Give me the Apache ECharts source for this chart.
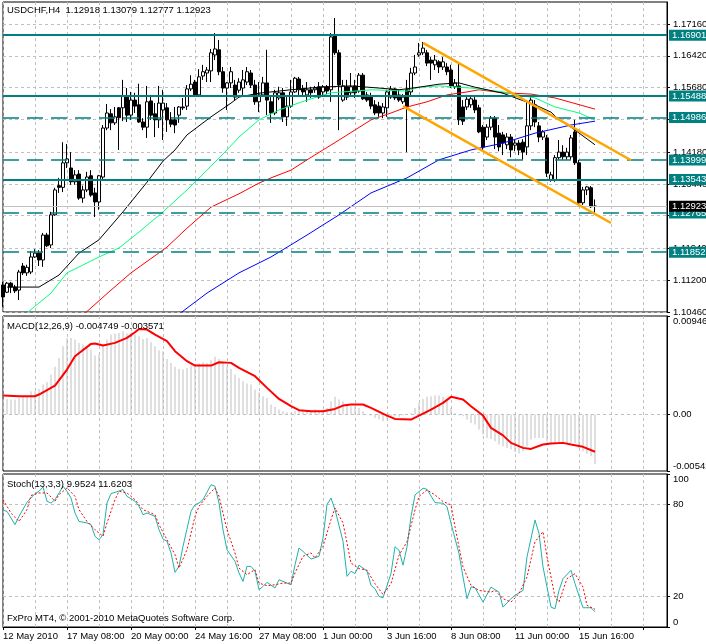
<!DOCTYPE html>
<html><head><meta charset="utf-8">
<script src="https://cdn.jsdelivr.net/npm/echarts@6/dist/echarts.min.js"></script>
<style>html,body{margin:0;padding:0;background:#fff}#c{width:706px;height:644px}</style>
</head><body><div id="c"></div>
<script>
const xTickLabels = ['12 May 2010','17 May 08:00','20 May 00:00','24 May 16:00','27 May 08:00','1 Jun 00:00','3 Jun 16:00','8 Jun 08:00','11 Jun 00:00','15 Jun 16:00'];
const priceTickLabels = ['1.10460','1.11200','1.11940','1.12700','1.13440','1.14180','1.14940','1.15680','1.16420','1.17160'];
const macdTickLabels = ['-0.00542','0.00','0.00946'];
const stochTickLabels = ['0','20','80','100'];

const open = [1.1109,1.1092,1.1113,1.1104,1.1097,1.1153,1.1137,1.1139,1.1174,1.1183,
1.1167,1.1225,1.1202,1.1272,1.1340,1.1336,1.1393,1.1381,1.1349,1.1367,
1.1311,1.1330,1.1363,1.1323,1.1302,1.1360,1.1474,1.1507,1.1486,1.1521,
1.1521,1.1549,1.1504,1.1539,1.1528,1.1488,1.1476,1.1537,1.1507,1.1493,
1.1516,1.1521,1.1493,1.1493,1.1504,1.1523,1.1525,1.1565,1.1581,1.1551,
1.1595,1.1602,1.1607,1.1644,1.1656,1.1605,1.1567,1.1579,1.1574,1.1562,
1.1567,1.1581,1.1602,1.1574,1.1535,1.1551,1.1579,1.1535,1.1509,1.1544,
1.1556,1.1500,1.1525,1.1558,1.1588,1.1565,1.1551,1.1563,1.1563,1.1570,
1.1558,1.1570,1.1563,1.1688,1.1649,1.1539,1.1570,1.1556,1.1572,1.1560,
1.1597,1.1551,1.1549,1.1528,1.1525,1.1509,1.1521,1.1546,1.1565,1.1551,
1.1535,1.1563,1.1558,1.1602,1.1644,1.1649,1.1649,1.1632,1.1621,1.1628,
1.1616,1.1616,1.1609,1.1570,1.1572,1.1523,1.1523,1.1528,1.1539,1.1521,
1.1476,1.1453,1.1476,1.1497,1.1462,1.1458,1.1435,1.1453,1.1434,1.1439,
1.1441,1.1430,1.1479,1.1528,1.1479,1.1453,1.1451,1.1353,1.1353,1.1405,
1.1418,1.1407,1.1407,1.1465,1.1393,1.1300,1.1330,1.1335,1.12918];
const high = [1.1116,1.1116,1.1116,1.1109,1.1144,1.1160,1.1156,1.1188,1.1192,1.1190,
1.1230,1.1230,1.1279,1.1335,1.1358,1.1441,1.1437,1.1418,1.1376,1.1376,
1.1340,1.1372,1.1376,1.1335,1.1365,1.1481,1.1530,1.1518,1.1523,1.1523,
1.1586,1.1567,1.1558,1.1556,1.1577,1.1497,1.1572,1.1551,1.1532,1.1572,
1.1563,1.1532,1.1511,1.1523,1.1525,1.1544,1.1574,1.1597,1.1586,1.1611,
1.1621,1.1616,1.1658,1.1695,1.1679,1.1616,1.1581,1.1616,1.1586,1.1590,
1.1609,1.1616,1.1609,1.1586,1.1581,1.1593,1.1656,1.1546,1.1563,1.1570,
1.1567,1.1546,1.1586,1.1593,1.1593,1.1574,1.1581,1.1570,1.1572,1.1581,
1.1574,1.1574,1.1695,1.1730,1.1656,1.1586,1.1586,1.1602,1.1586,1.1602,
1.1602,1.1558,1.1556,1.1539,1.1535,1.1532,1.1563,1.1572,1.1567,1.1563,
1.1553,1.1586,1.1614,1.1644,1.1672,1.1674,1.1656,1.1639,1.1644,1.1632,
1.1639,1.1625,1.1621,1.1588,1.1625,1.1539,1.1551,1.1551,1.1546,1.1528,
1.1481,1.1483,1.1502,1.1502,1.1481,1.1465,1.1462,1.1460,1.1448,1.1446,
1.1448,1.1539,1.1546,1.1539,1.1488,1.1469,1.1458,1.1372,1.1411,1.1446,
1.1434,1.1428,1.1458,1.1493,1.1400,1.1337,1.1339,1.1339,1.13079];
const low = [1.1058,1.1090,1.1090,1.1090,1.1074,1.1132,1.1130,1.1134,1.1172,1.1153,
1.1151,1.1197,1.1195,1.1270,1.1323,1.1325,1.1381,1.1342,1.1342,1.1307,
1.1300,1.1325,1.1314,1.1267,1.1284,1.1353,1.1469,1.1469,1.1481,1.1423,
1.1490,1.1488,1.1493,1.1509,1.1486,1.1469,1.1451,1.1493,1.1453,1.1474,
1.1446,1.1465,1.1476,1.1462,1.1486,1.1516,1.1516,1.1560,1.1549,1.1549,
1.1586,1.1581,1.1581,1.1632,1.1597,1.1556,1.1516,1.1567,1.1539,1.1556,
1.1551,1.1574,1.1567,1.1528,1.1511,1.1546,1.1504,1.1486,1.1504,1.1539,
1.1488,1.1479,1.1521,1.1556,1.1551,1.1549,1.1535,1.1544,1.1556,1.1542,
1.1551,1.1553,1.1535,1.1644,1.1469,1.1535,1.1539,1.1551,1.1544,1.1556,
1.1539,1.1535,1.1518,1.1504,1.1500,1.1497,1.1500,1.1542,1.1539,1.1535,
1.1530,1.1418,1.1549,1.1597,1.1640,1.1644,1.1618,1.1586,1.1609,1.1602,
1.1609,1.1597,1.1567,1.1565,1.1481,1.1481,1.1516,1.1521,1.1509,1.1462,
1.1423,1.1446,1.1469,1.1425,1.1420,1.1411,1.1425,1.1406,1.1420,1.1411,
1.1400,1.1411,1.1469,1.1476,1.1441,1.1446,1.1360,1.1349,1.1349,1.1400,
1.1400,1.1400,1.1400,1.1388,1.1295,1.1295,1.1318,1.1288,1.12777];
const close = [1.1081,1.1113,1.1104,1.1095,1.1139,1.1137,1.1150,1.1174,1.1183,1.1167,
1.1225,1.1200,1.1272,1.1330,1.1336,1.1393,1.1402,1.1349,1.1365,1.1311,
1.1330,1.1360,1.1318,1.1302,1.1363,1.1474,1.1509,1.1486,1.1500,1.1498,
1.1549,1.1504,1.1539,1.1525,1.1488,1.1476,1.1535,1.1504,1.1493,1.1532,
1.1532,1.1493,1.1483,1.1481,1.1523,1.1521,1.1565,1.1576,1.1551,1.1593,
1.1605,1.1609,1.1649,1.1658,1.1605,1.1567,1.1579,1.1605,1.1546,1.1581,
1.1586,1.1605,1.1574,1.1535,1.1551,1.1579,1.1539,1.1509,1.1556,1.1556,
1.1500,1.1525,1.1558,1.1590,1.1563,1.1558,1.1563,1.1556,1.1567,1.1546,
1.1570,1.1560,1.1686,1.1649,1.1574,1.1572,1.1546,1.1570,1.1556,1.1597,
1.1542,1.1539,1.1525,1.1509,1.1509,1.1523,1.1558,1.1565,1.1544,1.1539,
1.1546,1.1523,1.1602,1.1616,1.1649,1.1660,1.1625,1.1625,1.1632,1.1616,
1.1628,1.1605,1.1572,1.1579,1.1493,1.1490,1.1541,1.1542,1.1516,1.1465,
1.1430,1.1476,1.1497,1.1453,1.1430,1.1439,1.1453,1.1423,1.1439,1.1423,
1.1418,1.1479,1.1539,1.1488,1.1453,1.1465,1.1369,1.1365,1.1405,1.1418,
1.1407,1.1418,1.1451,1.1393,1.1300,1.1330,1.1337,1.1291,1.12923];

// moving averages read as [bar index, price]
const maBlack = [[1,1.1104],[4,1.1104],[9,1.1104],[14,1.1132],[19,1.1183],[24,1.1214],[30,1.1279],[36,1.1348],[40,1.1397],[43,1.1423],[46,1.1458],[52,1.1500],[57,1.1532],[59,1.1546],[64,1.1555],[72,1.1563],[79,1.1569],[87,1.1572],[94,1.1567],[99,1.1563],[104,1.1569],[109,1.1576],[114,1.1579],[118,1.1569],[125,1.1555],[129,1.1541],[133,1.1528],[137,1.1511],[139,1.1493],[142,1.1476],[148,1.1435]];
const maGreen = [[6,1.1044],[12,1.1090],[16,1.1137],[21,1.1160],[24,1.1174],[29,1.1195],[34,1.1232],[40,1.1279],[46,1.1330],[51,1.1376],[56,1.1423],[59,1.1453],[64,1.1493],[69,1.1516],[76,1.1539],[82,1.1556],[88,1.1560],[92,1.1563],[101,1.1560],[104,1.1569],[109,1.1572],[117,1.1567],[125,1.1558],[133,1.1544],[138,1.1523],[144,1.1509],[148,1.1493]];
const maRed = [[20,1.1039],[27,1.1097],[32,1.1137],[41,1.1197],[46,1.1241],[52,1.1290],[59,1.1321],[64,1.1346],[67,1.1358],[72,1.1376],[76,1.1400],[80,1.1423],[84,1.1446],[92,1.1493],[97,1.1509],[101,1.1523],[106,1.1535],[111,1.1551],[116,1.1558],[119,1.1563],[125,1.1556],[132,1.1553],[138,1.1544],[148,1.1518]];
const maBlue = [[44,1.1041],[51,1.1090],[59,1.1137],[67,1.1174],[76,1.1225],[84,1.1272],[92,1.1323],[101,1.1358],[109,1.1400],[117,1.1423],[125,1.1439],[133,1.1462],[142,1.1481],[148,1.1490]];
const channelUpper = [[105,1.1672],[157,1.1399]];
const channelLower = [[100,1.1525],[152,1.1253]];

const levelValues = [1.16901,1.15488,1.14986,1.13999,1.13543,1.12765,1.11852];
const levelSolid = [true,true,false,false,true,false,false];
const bidPrice = 1.12923;

const macdHist = [0.00150,0.00150,0.00144,0.00144,0.00160,0.00170,0.00170,0.00224,0.00224,0.00246,
0.00288,0.00310,0.00384,0.00458,0.00544,0.00656,0.00736,0.00736,0.00720,0.00688,
0.00672,0.00656,0.00624,0.00566,0.00576,0.00672,0.00720,0.00768,0.00778,0.00784,
0.00800,0.00778,0.00790,0.00768,0.00752,0.00726,0.00736,0.00694,0.00656,0.00618,
0.00608,0.00534,0.00496,0.00458,0.00438,0.00432,0.00448,0.00470,0.00464,0.00490,
0.00502,0.00496,0.00522,0.00554,0.00534,0.00496,0.00464,0.00438,0.00384,0.00352,
0.00320,0.00298,0.00288,0.00240,0.00214,0.00176,0.00160,0.00096,0.00074,0.00048,
0.00032,0.00022,0.00016,0.00032,0.00048,0.00032,0.00038,0.00032,0.00048,0.00032,
0.00038,0.00064,0.00128,0.00170,0.00144,0.00128,0.00096,0.00080,0.00074,0.00064,
0.00032,-0.00003,-0.00010,-0.00032,-0.00048,-0.00064,-0.00048,-0.00032,-0.00016,-0.00022,
-0.00010,-0.00002,0.00016,0.00064,0.00112,0.00150,0.00170,0.00176,0.00182,0.00182,
0.00170,0.00128,0.00064,0.00016,-0.00010,-0.00016,-0.00048,-0.00080,-0.00096,-0.00144,
-0.00192,-0.00224,-0.00234,-0.00256,-0.00288,-0.00304,-0.00320,-0.00336,-0.00362,-0.00374,
-0.00352,-0.00304,-0.00240,-0.00224,-0.00224,-0.00224,-0.00256,-0.00272,-0.00272,-0.00272,
-0.00266,-0.00272,-0.00272,-0.00272,-0.00320,-0.00352,-0.00374,-0.00400,-0.004749];
const macdSignal = [[0,0.00182],[4,0.00176],[8,0.00176],[9,0.00192],[13,0.00278],[16,0.00432],[18,0.0056],[22,0.00678],[23,0.00682],[25,0.00662],[28,0.00688],[31,0.00736],[33,0.0079],[34,0.00822],[36,0.00816],[38,0.00768],[41,0.00704],[43,0.00608],[46,0.00512],[48,0.0047],[52,0.0047],[54,0.00502],[57,0.00496],[59,0.00448],[63,0.00368],[66,0.00256],[69,0.0015],[72,0.0008],[74,0.00042],[77,0.00032],[80,0.00032],[83,0.00054],[85,0.00086],[87,0.00096],[90,0.00096],[92,0.00064],[96,-0.0001],[98,-0.00042],[102,-0.00048],[104,-0.0001],[107,0.00048],[110,0.00112],[112,0.0017],[115,0.00144],[117,0.0008],[120,-0.0001],[122,-0.00128],[125,-0.002],[127,-0.00272],[130,-0.0032],[132,-0.0033],[135,-0.00288],[137,-0.00278],[140,-0.00272],[142,-0.00288],[145,-0.0031],[148,-0.003571]];

const stochMain = [[0,76.3],[1,75.6],[3,66.9],[4,72.3],[6,81.5],[8,87.2],[9,88.7],[10,91.5],[11,82.2],[12,81],[13,83.2],[15,92],[16,88.7],[17,84.3],[18,74.5],[19,69],[21,68],[22,67],[23,59.3],[24,57],[25,60.3],[26,81],[27,87.2],[28,88],[30,89.8],[31,85.4],[33,82.2],[34,78.9],[35,73.4],[36,74.5],[38,72.3],[39,63.6],[40,57.5],[41,56],[42,48.4],[43,35.7],[44,39.6],[45,52.7],[47,75.6],[48,80],[49,81],[50,83.2],[52,93],[53,92],[54,81],[55,63.6],[56,50.5],[58,42.9],[59,35.3],[60,29.8],[61,39.6],[62,39.6],[63,36.4],[64,24.4],[65,26.5],[66,29.2],[68,25.5],[69,30.9],[70,29.8],[72,27.6],[73,40.7],[74,51.6],[75,49.4],[77,44.4],[79,46.2],[80,58.2],[81,80],[82,84.3],[83,76.7],[85,56],[86,33.1],[87,36.4],[88,34.9],[89,40.4],[91,36.6],[92,27.2],[93,25],[94,20],[95,19.1],[97,34.9],[98,52.4],[99,50.2],[100,40.4],[101,52.4],[102,72.1],[103,86.3],[105,90.7],[106,90],[108,81.3],[110,80.9],[111,78.7],[112,67.7],[114,48],[115,32.7],[116,18.5],[117,26.1],[118,25.7],[120,16.3],[122,26.1],[124,22.8],[125,13],[127,18.5],[128,20.7],[130,23.9],[131,45.8],[133,69.9],[134,61.2],[135,39.3],[137,13],[138,11.9],[139,23.9],[140,31.6],[142,37.1],[143,28.3],[145,12.6],[147,12.6],[148,9.9524]];
const stochSignal = [[0,83.2],[2,74.5],[4,69],[6,76.7],[7,85.9],[9,87.6],[11,87.6],[13,82.2],[14,86.5],[16,90.9],[18,85.4],[19,76.7],[21,69],[23,63.6],[25,59.3],[26,68],[28,83.2],[29,88.7],[31,87.6],[33,83.2],[35,76.7],[38,73.4],[39,66.9],[41,57],[43,47.3],[44,38.5],[46,50.5],[48,72.3],[49,78.9],[51,85.4],[53,90.9],[54,85.4],[56,63.6],[58,48.4],[59,38.5],[61,34.2],[63,37.5],[64,28.7],[66,27],[68,27.6],[70,28.7],[72,28.7],[73,35.3],[75,46.2],[77,48.4],[78,45.1],[80,52.7],[82,70.2],[83,77.8],[85,68],[87,41.8],[89,38.2],[91,37.1],[93,28.3],[95,21.3],[97,28.3],[99,46.9],[101,55.7],[103,76.5],[104,85.3],[106,89.6],[108,86.3],[110,82],[112,79.8],[113,65.5],[115,39.3],[117,27.2],[119,23.9],[122,22.8],[123,23.9],[125,18.5],[127,16.3],[129,21.8],[131,32.7],[133,55.7],[135,62.3],[136,45.8],[138,19.6],[139,16.3],[141,31.6],[143,34.9],[145,26.1],[146,14.1],[148,11.6203]];

const SLOTS = 167;
const categories = Array.from({length: SLOTS}, (_, i) => String(i));
const FONT = '"Liberation Sans", Arial, sans-serif';
const FS = 9.5;
const GRIDC = '#C0C0C0';
const TEAL = '#008080';

const candleData = open.map((o, i) => [o, close[i], low[i], high[i]]);

const chart = echarts.init(document.getElementById('c'), null, {renderer: 'canvas'});

const gridDash = {type: [3, 3], color: GRIDC, width: 1};
function xAx(gi, showLabels) {
  return {
    type: 'category', gridIndex: gi, data: categories, boundaryGap: false,
    axisLine: {show: showLabels, lineStyle: {color: '#000'}},
    axisTick: {show: showLabels, interval: 15, length: 3, lineStyle: {color: '#000'}},
    axisLabel: {show: showLabels, interval: 15, align: 'left', margin: 4, color: '#000',
      fontFamily: FONT, fontSize: FS,
      formatter: (v, idx) => xTickLabels[idx / 16] || ''},
    splitLine: {show: true, interval: 7, lineStyle: gridDash}
  };
}
function yAx(gi, min, max, custom, labels, edgeAlign) {
  const lab = {show: true, customValues: custom, margin: 6, color: '#000',
    fontFamily: FONT, fontSize: FS,
    formatter: v => { const k = custom.indexOf(v); return k >= 0 ? labels[k] : ''; }};
  if (edgeAlign) { lab.verticalAlignMaxLabel = 'top'; lab.verticalAlignMinLabel = 'bottom'; }
  return {
    type: 'value', gridIndex: gi, position: 'right', min: min, max: max,
    axisLine: {show: true, lineStyle: {color: '#000'}},
    axisTick: {show: true, length: 3, customValues: custom, lineStyle: {color: '#000'}},
    axisLabel: lab,
    splitLine: {show: false}
  };
}
const priceTicks = priceTickLabels.map(Number);
const macdTicks = macdTickLabels.map(Number);
const stochTicks = stochTickLabels.map(Number);

function gridLines(vals) {
  return {silent: true, symbol: ['none', 'none'], z: 1, precision: 8, label: {show: false},
    lineStyle: gridDash, emphasis: {disabled: true},
    data: vals.map(v => ({yAxis: v}))};
}

const levelLines = levelValues.map((v, k) => ({
  yAxis: v,
  lineStyle: levelSolid[k] ? {type: 'solid', color: TEAL, width: 2} : {type: [16, 8], color: TEAL, width: 1.5},
  label: {show: true, position: 'end', distance: 2, formatter: v.toFixed(5), color: '#fff',
    backgroundColor: TEAL, padding: [1, 3, 0, 3], fontFamily: FONT, fontSize: FS}
}));
levelLines.push({
  yAxis: bidPrice,
  lineStyle: {type: 'solid', color: GRIDC, width: 1},
  label: {show: true, position: 'end', distance: 2, formatter: bidPrice.toFixed(5), color: '#fff',
    backgroundColor: '#000', padding: [1, 3, 0, 3], fontFamily: FONT, fontSize: FS}
});

function maSeries(data, color, extra) {
  return Object.assign({type: 'line', xAxisIndex: 0, yAxisIndex: 0, data: data, symbol: 'none',
    lineStyle: {color: color, width: 1}, silent: true, z: 3}, extra || {});
}

const gridBase = {left: 3, width: 664, show: true, borderColor: '#000', borderWidth: 1, backgroundColor: '#fff', outerBoundsMode: 'none', containLabel: false};

chart.setOption({
  animation: false,
  backgroundColor: '#fff',
  grid: [
    Object.assign({top: 2, height: 310}, gridBase),
    Object.assign({top: 316, height: 155}, gridBase),
    Object.assign({top: 474, height: 153}, gridBase)
  ],
  xAxis: [xAx(0, false), xAx(1, false), xAx(2, true)],
  yAxis: [
    yAx(0, 1.1046, 1.17672, priceTicks, priceTickLabels, false),
    yAx(1, -0.00542, 0.00946, macdTicks, macdTickLabels, true),
    yAx(2, 0, 100, stochTicks, stochTickLabels, true)
  ],
  graphic: [
    {type: 'text', left: 7, top: 5, z: 100, style: {text: 'USDCHF,H4  1.12918 1.13079 1.12777 1.12923', font: FS + 'px ' + FONT, fill: '#000'}},
    {type: 'text', left: 7, top: 321, z: 100, style: {text: 'MACD(12,26,9) -0.004749 -0.003571', font: FS + 'px ' + FONT, fill: '#000'}},
    {type: 'text', left: 7, top: 479, z: 100, style: {text: 'Stoch(13,3,3) 9.9524 11.6203', font: FS + 'px ' + FONT, fill: '#000'}},
    {type: 'text', left: 7, top: 613, z: 100, style: {text: 'FxPro MT4, \u00a9 2001-2010 MetaQuotes Software Corp.', font: FS + 'px ' + FONT, fill: '#000'}}
  ],
  series: [
    maSeries(maBlue, '#0000FF', {markLine: gridLines(priceTicks)}),
    maSeries(maRed, '#FF0000'),
    maSeries(maGreen, '#00FF7F'),
    maSeries(maBlack, '#000000'),
    {type: 'candlestick', xAxisIndex: 0, yAxisIndex: 0, data: candleData, barWidth: 3, silent: true, z: 2,
      itemStyle: {color: '#fff', color0: '#000', borderColor: '#000', borderColor0: '#000', borderWidth: 1},
      markLine: {silent: true, symbol: ['none', 'none'], z: 5, precision: 8, data: levelLines}},
    maSeries(channelUpper, '#FFA500', {lineStyle: {color: '#FFA500', width: 2.5}, z: 6}),
    maSeries(channelLower, '#FFA500', {lineStyle: {color: '#FFA500', width: 2.5}, z: 6}),
    {type: 'bar', xAxisIndex: 1, yAxisIndex: 1, data: macdHist, barWidth: 1, silent: true,
      itemStyle: {color: '#C0C0C0'}, markLine: gridLines([0])},
    {type: 'line', xAxisIndex: 1, yAxisIndex: 1, data: macdSignal, symbol: 'none', silent: true,
      lineStyle: {color: '#FF0000', width: 2}, z: 4},
    {type: 'line', xAxisIndex: 2, yAxisIndex: 2, data: stochMain, symbol: 'none', silent: true,
      lineStyle: {color: '#20B2AA', width: 1}, z: 3, markLine: gridLines([20, 80])},
    {type: 'line', xAxisIndex: 2, yAxisIndex: 2, data: stochSignal, symbol: 'none', silent: true,
      lineStyle: {color: '#FF0000', width: 1, type: [2, 2]}, z: 4}
  ]
});
</script>
</body></html>
